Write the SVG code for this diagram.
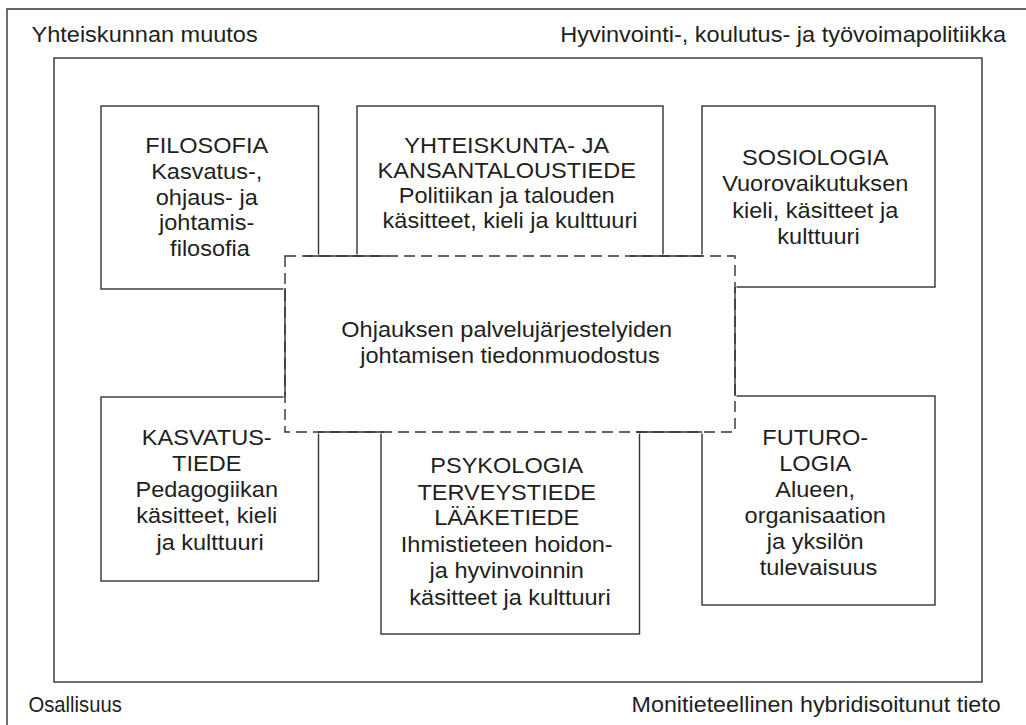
<svg xmlns="http://www.w3.org/2000/svg" width="1026" height="725" viewBox="0 0 1026 725">
  <style>
    .frame { fill: none; stroke: #333; stroke-width: 1.4; }
    .box { fill: #fff; stroke: #333; stroke-width: 1.4; }
    .cover { fill: #fff; stroke: #fff; stroke-width: 3; }
    .dash { fill: none; stroke: #333; stroke-width: 1.4; stroke-dasharray: 11 6; }
    .join { fill: none; stroke: #333; stroke-width: 1.4; }
    text { font-family: "Liberation Sans", Arial, sans-serif; font-size: 22px; fill: #231f20; }
    .c { text-anchor: middle; }
    .e { text-anchor: end; }
  </style>
  <rect width="1026" height="725" fill="#fff"/>

  <!-- outer and inner frames -->
  <g id="frames">
    <path class="frame" d="M7,730 V9 H1030"/>
    <rect class="frame" x="54" y="58" width="928" height="624"/>
  </g>

  <!-- corner labels -->
  <g id="labels">
    <text transform="translate(31.5 0) scale(1.07 1)" x="0" y="42">Yhteiskunnan muutos</text>
    <text class="e" transform="translate(1006 0) scale(1.07 1)" x="0" y="42">Hyvinvointi-, koulutus- ja työvoimapolitiikka</text>
    <text transform="translate(28.5 0) scale(0.92 1)" x="0" y="712">Osallisuus</text>
    <text transform="translate(631.5 0) scale(1.06 1)" x="0" y="712">Monitieteellinen hybridisoitunut tieto</text>
  </g>

  <g id="filosofia">
    <rect class="box" x="101" y="106" width="217.5" height="183"/>
    <text class="c" transform="translate(210 0) scale(1.07 1)">
      <tspan x="0" y="153.5">FILOSOFIA</tspan>
      <tspan x="0" y="179">Kasvatus-,</tspan>
      <tspan x="0" y="205">ohjaus- ja</tspan>
      <tspan x="0" y="230.5">johtamis-</tspan>
      <tspan x="0" y="256">filosofia</tspan>
    </text>
  </g>

  <g id="yhteiskunta">
    <rect class="box" x="357" y="106" width="306" height="150"/>
    <text class="c" transform="translate(510 0) scale(1.07 1)">
      <tspan x="0" y="153.5">YHTEISKUNTA- JA</tspan>
      <tspan x="0" y="178">KANSANTALOUSTIEDE</tspan>
      <tspan x="0" y="203.5">Politiikan ja talouden</tspan>
      <tspan x="0" y="228.5">käsitteet, kieli ja kulttuuri</tspan>
    </text>
  </g>

  <g id="sosiologia">
    <rect class="box" x="702" y="106" width="233" height="181"/>
    <text class="c" transform="translate(818.5 0) scale(1.07 1)">
      <tspan x="0" y="165">SOSIOLOGIA</tspan>
      <tspan x="0" y="191.5">Vuorovaikutuksen</tspan>
      <tspan x="0" y="218">kieli, käsitteet ja</tspan>
      <tspan x="0" y="244.5">kulttuuri</tspan>
    </text>
  </g>

  <g id="kasvatustiede">
    <rect class="box" x="101" y="397" width="217.5" height="184"/>
    <text class="c" transform="translate(210 0) scale(1.07 1)">
      <tspan x="0" y="445">KASVATUS-</tspan>
      <tspan x="0" y="471.5">TIEDE</tspan>
      <tspan x="0" y="497.5">Pedagogiikan</tspan>
      <tspan x="0" y="523.5">käsitteet, kieli</tspan>
      <tspan x="0" y="550">ja kulttuuri</tspan>
    </text>
  </g>

  <g id="psykologia">
    <rect class="box" x="381" y="432" width="258.5" height="202"/>
    <text class="c" transform="translate(510 0) scale(1.07 1)">
      <tspan x="0" y="473.5">PSYKOLOGIA</tspan>
      <tspan x="0" y="500">TERVEYSTIEDE</tspan>
      <tspan x="0" y="525.5">LÄÄKETIEDE</tspan>
      <tspan x="0" y="552">Ihmistieteen hoidon-</tspan>
      <tspan x="0" y="578.5">ja hyvinvoinnin</tspan>
      <tspan x="0" y="605">käsitteet ja kulttuuri</tspan>
    </text>
  </g>

  <g id="futurologia">
    <rect class="box" x="702" y="396" width="233" height="209"/>
    <text class="c" transform="translate(818.5 0) scale(1.07 1)">
      <tspan x="0" y="445">FUTURO-</tspan>
      <tspan x="0" y="471">LOGIA</tspan>
      <tspan x="0" y="497">Alueen,</tspan>
      <tspan x="0" y="523">organisaation</tspan>
      <tspan x="0" y="549">ja yksilön</tspan>
      <tspan x="0" y="575.5">tulevaisuus</tspan>
    </text>
  </g>

  <!-- central knowledge-formation area, laid over the inner corners of the six boxes -->
  <g id="tiedonmuodostus">
    <rect class="cover" x="285" y="256" width="450" height="176"/>
    <rect class="dash" x="285" y="256" width="450" height="176"/>
    <text class="c" transform="translate(510 0) scale(1.07 1)">
      <tspan x="0" y="337">Ohjauksen palvelujärjestelyiden</tspan>
      <tspan x="0" y="363">johtamisen tiedonmuodostus</tspan>
    </text>
  </g>

  <!-- solid joins where the boxes meet the dashed area -->
  <g id="connectors">
    <path class="join" d="M305,256 H388 M630,256 H702 M318,432 H384 M636,432 H702 M285,288 V397 M735,287 V396"/>
  </g>
</svg>
